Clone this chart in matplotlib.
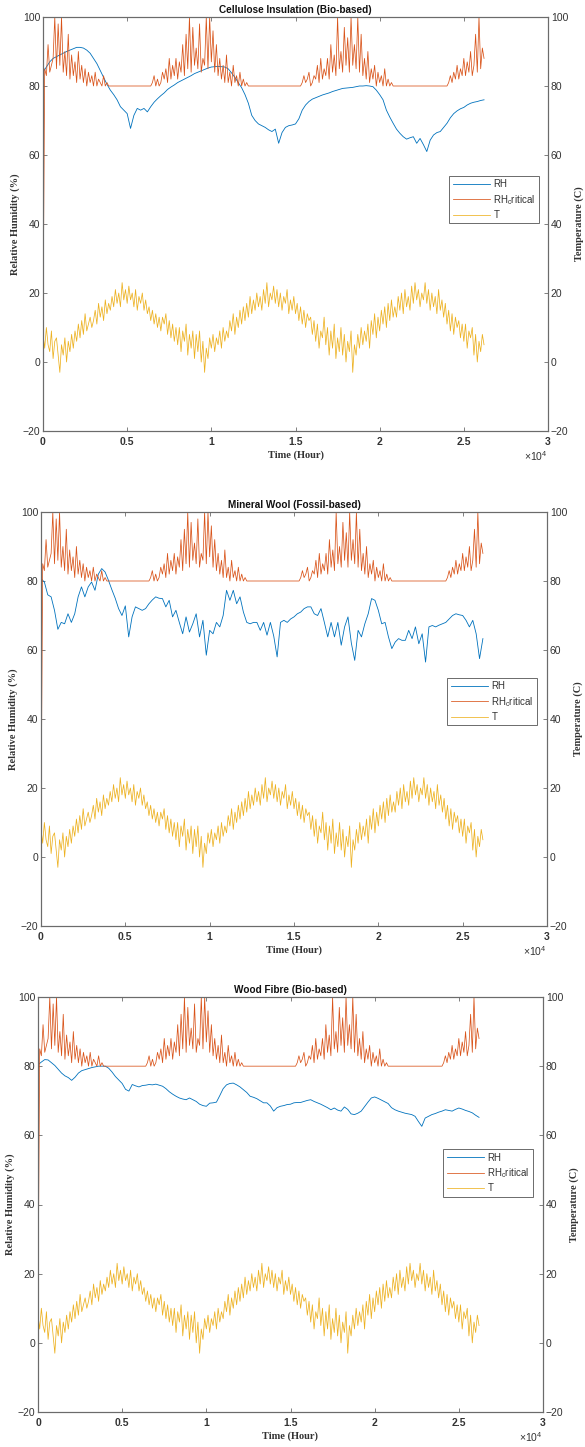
import matplotlib
matplotlib.use("Agg")
import matplotlib.pyplot as plt
import numpy as np

# sampling interval of the series below, hours (first sample at hour 0)
STEP_CLIMATE = 100
STEP_RH = 200

# outdoor temperature (C), same for all three panels, one row per 1000 h
T_AIR = [
    8, 4, 10, 5, 3, 9, 1, 6, 7, 2,
    -3, 5, 2, 7, 0, 6, 3, 8, 4, 9,
    6, 11, 7, 12, 8, 14, 9, 11, 13, 10,
    12, 15, 11, 17, 13, 16, 12, 18, 14, 17,
    15, 19, 16, 21, 17, 20, 16, 23, 18, 21,
    17, 22, 18, 20, 16, 21, 15, 19, 17, 20,
    15, 18, 14, 16, 12, 15, 11, 14, 10, 13,
    9, 13, 11, 14, 8, 12, 7, 11, 6, 10,
    5, 10, 3, 9, 6, 11, 2, 8, 4, 9,
    1, 8, 3, 9, 0, 6, -3, 4, 1, 7,
    4, 8, 3, 7, 5, 9, 4, 10, 6, 9,
    7, 12, 9, 14, 8, 13, 10, 15, 11, 16,
    12, 17, 13, 19, 14, 18, 15, 20, 16, 19,
    15, 21, 17, 23, 16, 20, 18, 22, 17, 21,
    16, 20, 15, 19, 17, 21, 14, 18, 15, 19,
    14, 17, 12, 16, 11, 15, 10, 14, 12, 13,
    8, 12, 6, 11, 4, 9, 7, 13, 5, 10,
    2, 9, 4, 11, 1, 7, 3, 10, 2, 8,
    0, 6, 3, 9, -3, 5, 2, 8, 4, 10,
    5, 9, 6, 11, 4, 12, 8, 14, 7, 13,
    9, 15, 11, 16, 10, 17, 12, 18, 13, 16,
    13, 19, 15, 20, 14, 21, 16, 19, 15, 22,
    17, 23, 18, 21, 16, 20, 18, 23, 17, 21,
    15, 20, 16, 19, 14, 21, 15, 18, 13, 17,
    11, 15, 9, 14, 8, 13, 10, 12, 7, 11,
    6, 11, 4, 9, 7, 10, 2, 8, 0, 6,
    3, 8, 5,
]

# critical relative humidity (%), same for all three panels, one row per 1000 h
RH_CRIT = [
    10, 85, 83, 92, 84, 86, 88, 100, 85, 98,
    86, 100, 84, 90, 83, 95, 82, 89, 83, 87,
    81, 90, 82, 86, 81, 85, 80, 84, 81, 83,
    80, 84, 80, 82, 81, 80, 83, 80, 81, 80,
    80, 80, 80, 80, 80, 80, 80, 80, 80, 80,
    80, 80, 80, 80, 80, 80, 80, 80, 80, 80,
    80, 80, 80, 80, 80, 81, 83, 80, 82, 80,
    81, 84, 82, 85, 81, 88, 82, 86, 83, 88,
    82, 87, 84, 92, 83, 95, 85, 100, 84, 97,
    86, 91, 85, 98, 84, 88, 86, 100, 85, 100,
    87, 96, 84, 92, 83, 88, 82, 86, 81, 89,
    81, 84, 80, 86, 81, 83, 80, 84, 80, 82,
    80, 81, 80, 80, 80, 80, 80, 80, 80, 80,
    80, 80, 80, 80, 80, 80, 80, 80, 80, 80,
    80, 80, 80, 80, 80, 80, 80, 80, 80, 80,
    80, 80, 80, 80, 81, 83, 81, 82, 84, 80,
    81, 83, 82, 86, 81, 88, 82, 85, 83, 88,
    82, 92, 84, 89, 83, 100, 85, 90, 84, 97,
    86, 94, 84, 100, 86, 92, 85, 100, 84, 95,
    83, 88, 82, 90, 81, 85, 82, 86, 80, 84,
    81, 83, 80, 85, 80, 82, 80, 81, 80, 80,
    80, 80, 80, 80, 80, 80, 80, 80, 80, 80,
    80, 80, 80, 80, 80, 80, 80, 80, 80, 80,
    80, 80, 80, 80, 80, 80, 80, 80, 80, 80,
    80, 81, 83, 81, 84, 82, 86, 82, 85, 83,
    88, 83, 87, 84, 90, 83, 86, 95, 84, 100,
    85, 91, 88,
]

RH_CELLULOSE = [
    84, 85.5, 87, 88, 88.5, 89, 89.5, 90, 90.4, 90.8, 91.2, 91.2, 91, 90.4, 89.5, 88,
    86.5, 84.5, 82.5, 80.5, 78.8, 77.5, 76, 74, 73, 72, 67.7, 71.5, 73.5, 73, 73.5, 72.5,
    74, 75.3, 76.3, 77.2, 78, 79, 79.7, 80.3, 81, 81.5, 82, 82.5, 83, 83.6, 84, 84.4,
    84.8, 85.2, 85.5, 85.6, 85.7, 85.6, 85.5, 85, 83.8, 82.5, 81, 79.5, 77.5, 75, 71.5, 70,
    69, 68.5, 68, 67.3, 66.8, 67.5, 63.4, 66.5, 68, 68.5, 68.7, 69, 70.5, 73, 74.5, 75.5,
    76.2, 76.6, 77, 77.4, 77.7, 78, 78.4, 78.7, 79, 79.3, 79.4, 79.5, 79.6, 79.8, 80, 80,
    80.1, 80, 79.8, 78.8, 77.5, 76, 73, 71, 69.2, 67.5, 66.3, 65.3, 64.6, 65, 65.3, 63.4,
    64.8, 63, 61, 64.3, 65.8, 66.5, 66.8, 68, 69.2, 70.8, 72, 72.8, 73.4, 73.8, 74.5, 75,
    75.3, 75.5, 75.8, 76,
]

RH_MINERAL = [
    80.7, 79.7, 76, 75.4, 71.5, 66, 68, 67.6, 70.5, 68, 70.5, 75.4, 78.3, 75.4, 78.3, 79.7,
    77.3, 82, 83.6, 82.6, 80.2, 77.5, 75, 72, 70, 72.8, 63.8, 69.6, 72.5, 72, 71.5, 72,
    73.4, 74.5, 75.4, 75, 74.9, 72.5, 74.4, 69.6, 71.5, 68, 64.7, 69.6, 65.2, 67.6, 70.5, 63.8,
    68.6, 58.5, 65.7, 64.7, 68, 66.7, 70, 77.3, 74.4, 77.3, 73.4, 75.4, 71, 68, 67.6, 68,
    68, 65.7, 68, 64.3, 68, 64, 58, 68, 68.6, 68, 69, 69.6, 70.5, 71, 72, 72.5,
    72.5, 70.5, 70, 72, 68, 63.8, 68, 63.8, 68, 61.4, 66.7, 69.6, 62, 57, 65.7, 63.8,
    67.6, 70.5, 74.9, 74.4, 71.5, 67.6, 68, 63.8, 60.4, 62.3, 63.3, 62.8, 62.8, 65.7, 63.3, 66.7,
    61.8, 64.7, 56.5, 66.7, 67.1, 66.7, 67.2, 67.6, 68, 69, 70, 70.5, 70.2, 70, 68.6, 66.7,
    68.6, 64.7, 57.5, 63.3,
]

RH_WOOD = [
    80.4, 81.2, 81.9, 81.8, 81, 80.2, 79.1, 78, 77.2, 76.7, 75.9, 76.8, 78, 78.7, 79, 79.3,
    79.6, 79.8, 80, 80, 80, 79.4, 78.3, 77, 76, 75, 73.3, 72.8, 74.7, 74.3, 74, 74.4,
    74.5, 74.7, 74.6, 74.8, 74.5, 74.2, 73.5, 72.6, 71.9, 71.3, 70.8, 70.5, 70.3, 70.8, 70.3, 69.8,
    69, 68.6, 68.4, 69.3, 69.4, 69.6, 71.5, 73.5, 74.6, 75, 75.1, 74.6, 74, 73.2, 72.4, 71.3,
    71, 70.6, 70, 69.4, 69.4, 68.5, 67, 68, 68.4, 68.6, 68.9, 69, 69.4, 69.5, 69.5, 69.8,
    70.1, 70.3, 69.8, 69.4, 69, 68.5, 68, 67.4, 67.9, 67.3, 67, 68.2, 67.5, 66.2, 66, 66.4,
    67, 68.3, 69.6, 70.8, 71.1, 70.7, 70.2, 69.7, 69.2, 68, 67.4, 67, 66.7, 66.4, 66.2, 66,
    65.5, 64, 62.6, 65, 65.5, 66, 66.3, 66.7, 67, 67.4, 67.2, 67, 67.5, 67.9, 67.6, 67.2,
    66.9, 66.5, 65.8, 65.2,
]

TITLES = [
    "Cellulose Insulation (Bio-based)",
    "Mineral Wool (Fossil-based)",
    "Wood Fibre (Bio-based)",
]
RH_PANELS = [RH_CELLULOSE, RH_MINERAL, RH_WOOD]
LABELS = ["RH", r"RH$_{\mathrm{c}}$ritical", "T"]

X_TICKS = [0, 5000, 10000, 15000, 20000, 25000, 30000]
X_TICK_LABELS = ["0", "0.5", "1", "1.5", "2", "2.5", "3"]
Y_TICKS = [-20, 0, 20, 40, 60, 80, 100]

# matlab default colour order
C_RH = "#0072BD"
C_CRIT = "#D95319"
C_T = "#EDB120"
AXIS_C = "#6b6b6b"
TEXT_C = "#333333"

plt.rcParams["mathtext.fontset"] = "custom"
plt.rcParams["mathtext.rm"] = "Liberation Sans"
SANS = "Liberation Sans"
SERIF = "Liberation Serif"

W, H = 585, 1447
# axes boxes in pixels: left, top, right, bottom
BOXES = [(43, 17, 548, 431), (41, 512, 547, 926), (38, 997, 543, 1412)]
LEGEND_AT = [(0.982, 0.616), (0.980, 0.599), (0.980, 0.633)]


def hours_of(series, step):
    return np.arange(len(series)) * step


def style_axis(ax):
    for s in ax.spines.values():
        s.set_color(AXIS_C)
        s.set_linewidth(0.8)
    ax.tick_params(direction="in", length=3, width=0.6, color=AXIS_C,
                   labelcolor=TEXT_C, labelsize=7.5, pad=2)


def draw_panel(fig, box, rh, title, leg_at):
    l, t, r, b = box
    ax = fig.add_axes([l / W, 1 - b / H, (r - l) / W, (b - t) / H])
    ax2 = ax.twinx()

    h1, = ax.plot(hours_of(rh, STEP_RH), rh, color=C_RH, lw=0.6)
    h2, = ax.plot(hours_of(RH_CRIT, STEP_CLIMATE), RH_CRIT, color=C_CRIT, lw=0.55)
    h3, = ax2.plot(hours_of(T_AIR, STEP_CLIMATE), T_AIR, color=C_T, lw=0.55)

    for a in (ax, ax2):
        a.set_xlim(0, 30000)
        a.set_ylim(-20, 100)
        a.set_yticks(Y_TICKS)
        style_axis(a)
    ax.set_xticks(X_TICKS)
    ax.set_xticklabels(X_TICK_LABELS, fontfamily=SANS, fontweight="bold")
    ax.tick_params(axis="x", top=True, pad=4)
    ax.tick_params(axis="y", right=False)
    for lab in ax.get_yticklabels() + ax2.get_yticklabels():
        lab.set_fontfamily(SANS)

    ax.set_title(title, fontfamily=SANS, fontweight="bold", fontsize=7.2,
                 color="#111111", pad=3)
    ax.set_xlabel("Time (Hour)", fontfamily=SERIF, fontweight="bold",
                  fontsize=7.5, color=TEXT_C, labelpad=3)
    ax.set_ylabel("Relative Humidity (%)", fontfamily=SERIF, fontweight="bold",
                  fontsize=7.5, color=TEXT_C, labelpad=2)
    ax2.set_ylabel("Temperature (C)", fontfamily=SERIF, fontweight="bold",
                   fontsize=7.5, color=TEXT_C, labelpad=4)
    ax.text(1.0, -0.045, r"$\times$10$^{4}$", transform=ax.transAxes,
            ha="right", va="top", fontsize=7.5, color=TEXT_C, fontfamily=SANS)

    leg = ax2.legend([h1, h2, h3], LABELS, loc="upper right",
                     bbox_to_anchor=leg_at, fancybox=False, framealpha=1,
                     edgecolor=AXIS_C, handlelength=3.8, handletextpad=0.4,
                     labelspacing=0.35, borderpad=0.35, borderaxespad=0,
                     prop={"family": SANS, "size": 7})
    leg.get_frame().set_linewidth(0.7)
    for txt in leg.get_texts():
        txt.set_color(TEXT_C)


fig = plt.figure(figsize=(W / 100, H / 100), dpi=100)
for box, rh, title, leg_at in zip(BOXES, RH_PANELS, TITLES, LEGEND_AT):
    draw_panel(fig, box, rh, title, leg_at)

fig.savefig("out.png", dpi=100, facecolor="white")
plt.close(fig)
